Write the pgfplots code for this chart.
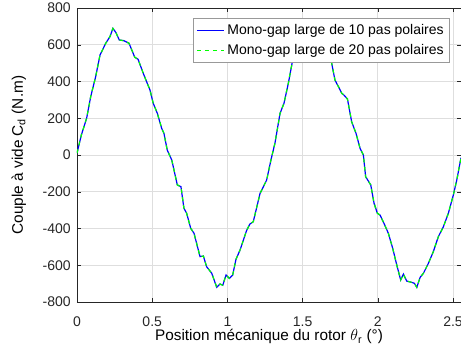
\documentclass[border=0pt]{standalone}
\usepackage{fontspec}
\setmainfont{Liberation Sans}
\usepackage{pgfplots}
\pgfplotsset{compat=1.18}
\definecolor{axgray}{gray}{0.15}
\definecolor{gridgray}{gray}{0.87}

% couple a vide
\pgfplotstableread{
x y
0.000 10
0.029 109
0.064 200
0.091 317
0.124 426
0.153 544
0.191 608
0.219 644
0.239 689
0.259 666
0.281 626
0.312 622
0.346 608
0.384 532
0.406 521
0.445 435
0.485 354
0.507 281
0.534 227
0.563 145
0.578 118
0.600 27
0.630 -27
0.667 -163
0.691 -172
0.711 -290
0.729 -317
0.756 -399
0.778 -426
0.818 -553
0.840 -550
0.862 -608
0.896 -644
0.929 -720
0.951 -702
0.969 -709
0.991 -653
1.013 -671
1.035 -653
1.057 -568
1.084 -517
1.128 -410
1.150 -375
1.172 -363
1.217 -209
1.261 -136
1.290 -25
1.316 64
1.350 227
1.376 281
1.405 390
1.434 517
1.471 608
1.499 644
1.519 689
1.539 666
1.561 626
1.592 622
1.626 608
1.664 560
1.689 517
1.715 408
1.738 372
1.760 336
1.775 326
1.798 305
1.826 181
1.855 118
1.882 36
1.904 0
1.919 -118
1.953 -163
1.975 -263
1.997 -317
2.015 -327
2.041 -372
2.070 -426
2.099 -508
2.126 -599
2.152 -680
2.170 -648
2.192 -686
2.225 -693
2.243 -698
2.259 -720
2.281 -666
2.303 -644
2.336 -590
2.369 -526
2.402 -445
2.436 -390
2.469 -317
2.502 -218
2.525 -136
2.553 -15
}\couple

\begin{document}
\begin{tikzpicture}
\begin{axis}[
    name=a,
    scale only axis,
    width=288pt, height=220.5pt,
    xmin=0, xmax=2.553,
    ymin=-800, ymax=800,
    xtick={0,0.5,...,2.5},
    ytick={-800,-600,...,800},
    tick align=inside,
    major tick length=3pt,
    axis line style={axgray},
    tick style={axgray},
    every tick label/.append style={font=\fontsize{10.5}{12}\selectfont, text=axgray},
    xticklabel style={yshift=-7.5pt},
    yticklabel style={xshift=-1.2pt},
    /pgf/number format/assume math mode=true,
    label style={font=\fontsize{11.5}{13}\selectfont, text=black},
    grid=major,
    major grid style={gridgray, line width=0.5pt},
    xlabel={Position mécanique du rotor $\theta$\textsubscript{r} (°)},
    ylabel={Couple à vide C\textsubscript{d} (N.m)},
    xlabel style={at={(axis description cs:0.5,0)}, anchor=base, yshift=-29pt},
    ylabel style={at={(axis description cs:0,0.5)}, anchor=base, yshift=40.5pt},
    legend style={
      at={(1,1)}, xshift=-8.25pt, yshift=-7.5pt,
      anchor=north east,
      draw=gray!80, fill=white,
      font=\fontsize{10.5}{12}\selectfont,
      inner sep=2.5pt,
      row sep=2pt,
    },
    legend cell align=left,
    legend image post style={xscale=1.2, line width=0.8pt},
]
  % 10 pas polaires
  \addplot [blue, line width=0.9pt] table {\couple};
  % 20 pas polaires
  \addplot [green, line width=0.9pt, dashed] table {\couple};

  \legend{Mono-gap large de 10 pas polaires, Mono-gap large de 20 pas polaires}
\end{axis}
\pgfresetboundingbox
\path[use as bounding box] ([xshift=-57.75pt,yshift=-39pt]a.south west) rectangle ([yshift=6pt]a.north east);
\end{tikzpicture}
\end{document}
